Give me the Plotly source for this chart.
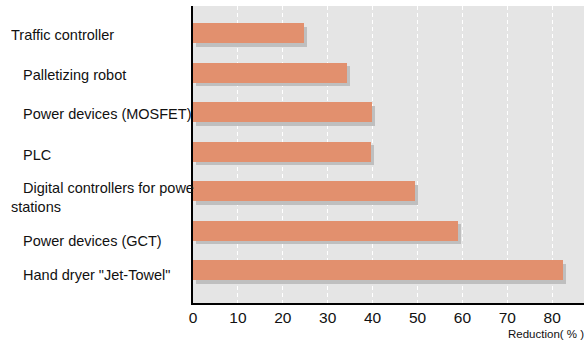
import plotly.graph_objects as go

categories = [
    "Traffic controller",
    "Palletizing robot",
    "Power devices (MOSFET)",
    "PLC",
    "Digital controllers for power<br>stations",
    "Power devices (GCT)",
    'Hand dryer "Jet-Towel"',
]
values = [24.7, 34.3, 39.8, 39.7, 49.5, 59.0, 82.5]
x_ticks = [0, 10, 20, 30, 40, 50, 60, 70, 80]
x_title = "Reduction( % )"

W, H = 584, 341
ML, MR, MT, MB = 193, 0, 6, 38
PW = W - ML - MR
PH = H - MT - MB

ypos = list(range(len(categories)))

fig = go.Figure()
# shadow
fig.add_trace(go.Bar(
    y=[p + 0.1 for p in ypos], x=values, base=[0.67] * len(values),
    orientation="h", width=0.506, marker=dict(color="#bfbfbf", line=dict(width=0)),
    hoverinfo="skip", showlegend=False,
))
# bars
fig.add_trace(go.Bar(
    y=ypos, x=values, orientation="h", width=0.506,
    marker=dict(color="#e2906e", line=dict(width=0)), showlegend=False,
))

indent = ["", "\u00a0\u00a0\u00a0", "\u00a0\u00a0\u00a0", "\u00a0\u00a0\u00a0",
          "\u00a0\u00a0\u00a0", "\u00a0\u00a0\u00a0", "\u00a0\u00a0\u00a0"]
yshift = [-2, -2, -2, -3, -6, -10, -5]
for i, c in enumerate(categories):
    fig.add_annotation(
        xref="paper", yref="y", x=(10 - ML) / PW, y=ypos[i], yshift=yshift[i],
        text=indent[i] + c, showarrow=False, xanchor="left", yanchor="middle",
        align="left", width=ML - 10, borderpad=0,
        font=dict(family="Liberation Sans, Arial", size=14.5, color="#111111"),
    )

fig.add_annotation(
    xref="paper", yref="paper", x=(506 - ML) / PW, y=-(334 - (MT + PH)) / PH,
    text=x_title, showarrow=False, xanchor="left", yanchor="middle",
    font=dict(family="Liberation Sans, Arial", size=11.5, color="#111111"),
)

fig.update_layout(
    width=W, height=H, margin=dict(l=ML, r=MR, t=MT, b=MB),
    paper_bgcolor="white", plot_bgcolor="#e5e5e5",
    barmode="overlay", bargap=0,
    xaxis=dict(range=[0, PW / 4.49], tickvals=x_ticks, showgrid=True,
               gridcolor="white", griddash="4px,3px", gridwidth=1, zeroline=False,
               showline=True, linecolor="black", linewidth=1.5,
               tickfont=dict(family="Liberation Sans, Arial", size=15.5, color="#111111"),
               ticks="", fixedrange=True),
    yaxis=dict(range=[6.835, -0.684], showticklabels=False, showgrid=False,
               zeroline=False, showline=True, linecolor="black", linewidth=1.5,
               ticks=""),
)

fig.write_html("out.html")
